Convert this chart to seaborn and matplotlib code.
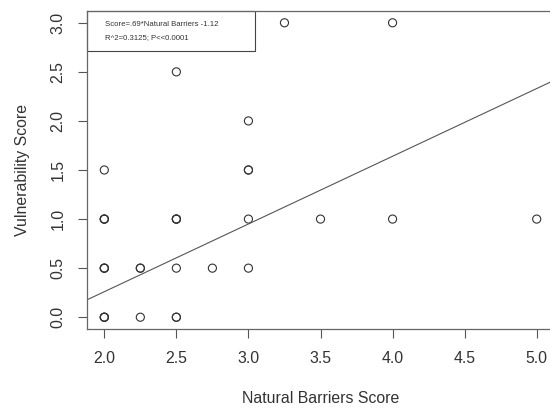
import seaborn as sns
import matplotlib.pyplot as plt
import pandas as pd
from matplotlib.patches import Rectangle

# Data (overlapping points repeated to give the darker rings)
barriers = [2.0, 2.0, 2.0, 2.0, 2.0, 2.0, 2.0, 2.0, 2.0, 2.0,
            2.25, 2.25, 2.25,
            2.5, 2.5, 2.5, 2.5, 2.5, 2.5, 2.5,
            2.75,
            3.0, 3.0, 3.0, 3.0, 3.0,
            3.25, 3.5, 4.0, 4.0, 5.0]
vulnerability = [0.0, 0.0, 0.0, 0.5, 0.5, 0.5, 1.0, 1.0, 1.0, 1.5,
                 0.0, 0.5, 0.5,
                 0.0, 0.0, 0.5, 1.0, 1.0, 1.0, 2.5,
                 0.5,
                 0.5, 1.0, 1.5, 1.5, 2.0,
                 3.0, 1.0, 1.0, 3.0, 1.0]
slope = 0.69
intercept = -1.12
legend_lines = ["Score=.69*Natural Barriers -1.12", "R^2=0.3125; P<<0.0001"]
x_ticks = [2.0, 2.5, 3.0, 3.5, 4.0, 4.5, 5.0]
y_ticks = [0.0, 0.5, 1.0, 1.5, 2.0, 2.5, 3.0]

df = pd.DataFrame({"Natural Barriers Score": barriers, "Vulnerability Score": vulnerability})

sns.set_theme(style="white")
plt.rcParams['font.family'] = ['Liberation Sans', 'DejaVu Sans']

fig = plt.figure(figsize=(5.5, 4.09), dpi=100)
ax = fig.add_axes([87 / 550, 1 - 329 / 409, 467 / 550, 318 / 409])

sns.scatterplot(data=df, x="Natural Barriers Score", y="Vulnerability Score", ax=ax,
                marker="o", s=34, facecolors="none", edgecolor="#333333", linewidth=0.8)
ax.axline((0, intercept), slope=slope, color="#555555", linewidth=0.8)

ax.set_xlim(1.88, 5.12)
ax.set_ylim(-0.12, 3.12)
ax.set_xticks(x_ticks)
ax.set_yticks(y_ticks)
ax.set_xticklabels([f"{t:.1f}" for t in x_ticks])
ax.set_yticklabels([f"{t:.1f}" for t in y_ticks], rotation=90, va="center")
ax.tick_params(axis="both", which="both", length=6.5, width=0.8, color="#555555",
               labelsize=11.4, labelcolor="#333333", pad=9, bottom=True, left=True)
ax.set_xlabel("Natural Barriers Score", fontsize=11.4, color="#333333", labelpad=18)
ax.set_ylabel("Vulnerability Score", fontsize=11.4, color="#333333", labelpad=15)
for sp in ax.spines.values():
    sp.set_color("#666666")
    sp.set_linewidth(0.9)

# legend box (R style, top left)
ax.add_patch(Rectangle((0, 1 - 40 / 318), 168 / 467, 40 / 318, transform=ax.transAxes,
                       fill=False, edgecolor="#444444", linewidth=0.8, clip_on=False))
ax.text(18 / 467, 1 - 14 / 318, legend_lines[0], transform=ax.transAxes,
        fontsize=5.6, color="#333333", va="center")
ax.text(18 / 467, 1 - 27 / 318, legend_lines[1], transform=ax.transAxes,
        fontsize=5.6, color="#333333", va="center")

plt.savefig("out.png", dpi=100)
